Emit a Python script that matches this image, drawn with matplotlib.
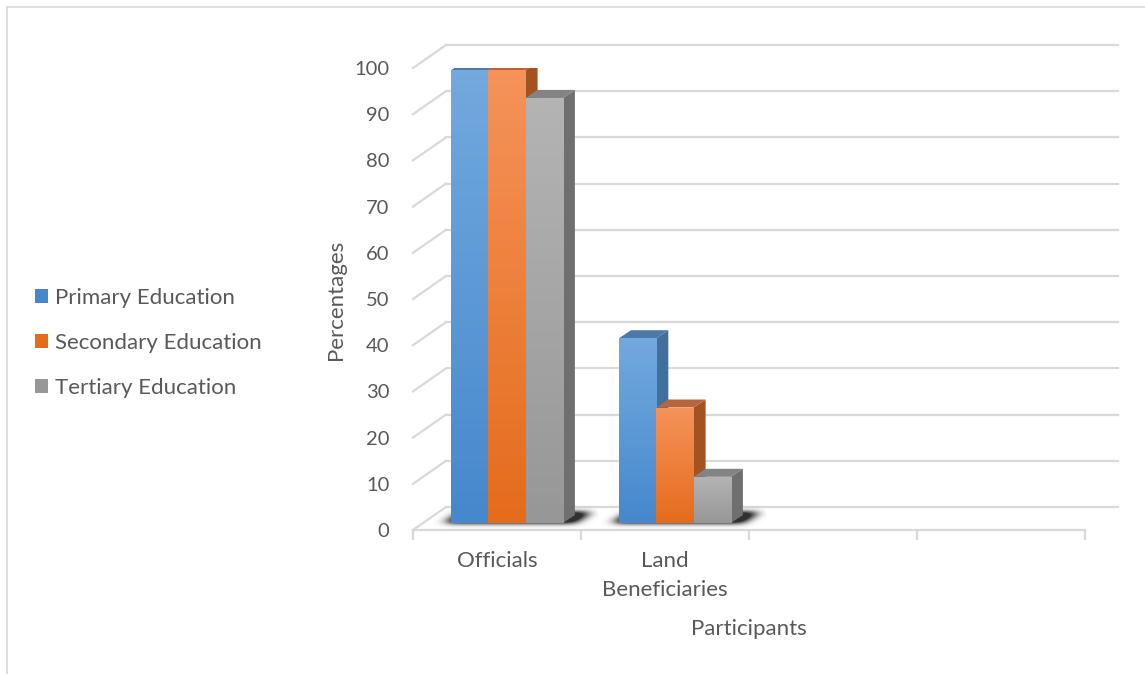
import matplotlib
matplotlib.use("Agg")
import matplotlib.pyplot as plt
import numpy as np
from matplotlib.patches import Polygon, Patch
from matplotlib.colors import LinearSegmentedColormap

# data
categories = ["Officials", "Land\nBeneficiaries", "", ""]
series = ["Primary Education", "Secondary Education", "Tertiary Education"]
primary = [98, 40]
secondary = [98, 25]
tertiary = [92, 10]
yticks = list(range(0, 101, 10))

plt.rcParams['font.family'] = ['Lato', 'DejaVu Sans']
TXT = '#595959'
GRID = '#d9d9d9'
FS = 16

# face colours: (front top, front bottom, top face, side face)
styles = [
    ('#72a9de', '#4688cd', '#4d78a8', '#42709c'),
    ('#f5935a', '#e56c1b', '#b8653c', '#a3531f'),
    ('#b4b4b4', '#979797', '#838383', '#6f6f6f'),
]

W_PX, H_PX = 1145, 674
fig = plt.figure(figsize=(W_PX / 100, H_PX / 100), dpi=100)
fig.patch.set_facecolor('white')

# front plane of the 3d box in pixels
x0, x1, y0, y1 = 413, 1085, 530, 68
ax = fig.add_axes([x0 / W_PX, (H_PX - y0) / H_PX, (x1 - x0) / W_PX, (y0 - y1) / H_PX])
ax.set_xlim(0, 4)
ax.set_ylim(0, 100)
px_x = (x1 - x0) / 4.0
px_y = (y0 - y1) / 100.0

# depth offsets (back wall, bar front face, bar depth)
DX, DY = 33 / px_x, 23 / px_y
FX, FY = 10 / px_x, 7 / px_y
BDX, BDY = 12 / px_x, 8 / px_y
BW = 37.3 / px_x
START = 28 / px_x

for s in ax.spines.values():
    s.set_visible(False)

# back wall gridlines and left wall
for v in yticks:
    ax.plot([DX, 4 + DX], [v + DY, v + DY], color=GRID, lw=1.6, zorder=1, clip_on=False)
    ax.plot([0, DX], [v, v + DY], color=GRID, lw=1.6, zorder=1, clip_on=False)
ax.plot([0, 4], [0, 0], color=GRID, lw=1.6, zorder=1, clip_on=False)

values = [primary, secondary, tertiary]


def blur1d(a, sigma, axis):
    r = int(3 * sigma)
    k = np.exp(-0.5 * (np.arange(-r, r + 1) / sigma) ** 2)
    k /= k.sum()
    return np.apply_along_axis(lambda m: np.convolve(m, k, mode='same'), axis, a)


# soft shadows on the floor (pixel grid, then placed in data coords)
for c in range(len(primary)):
    left = c + START + FX
    right = left + 3 * BW
    mx, my = 24, 10
    nx = int((right - left) * px_x + BDX * px_x) + 2 * mx
    ny = int(BDY * px_y) + 2 * my
    yy, xx = np.mgrid[0:ny, 0:nx]
    yr = yy - my            # 0 at bar base, up toward back
    xl = mx + yr * (BDX * px_x) / (BDY * px_y)
    foot = ((yr >= 0) & (yr <= BDY * px_y + 2) & (xx >= xl - 6) &
            (xx <= xl + (right - left) * px_x + 12)).astype(float)
    sh = blur1d(blur1d(foot, 6, 1), 2.5, 0)
    rgba = np.zeros((ny, nx, 4))
    rgba[..., :3] = 0.15
    rgba[..., 3] = np.clip(sh * 1.5, 0, 0.95)
    ext = (left - mx / px_x, left + (nx - mx) / px_x, FY - my / px_y, FY + (ny - my) / px_y)
    ax.imshow(rgba, origin='lower', aspect='auto', extent=ext, zorder=2, interpolation='bilinear')

# bars
for i, vals in enumerate(values):
    ftop, fbot, topc, sidec = styles[i]
    xs = [c + START + i * BW + FX for c in range(len(vals))]
    for x, v in zip(xs, vals):
        side = Polygon([(x + BW, FY), (x + BW + BDX, FY + BDY), (x + BW + BDX, FY + v + BDY), (x + BW, FY + v)],
                       closed=True, facecolor=sidec, edgecolor='none', zorder=3 + i)
        ax.add_patch(side)
        top = Polygon([(x, FY + v), (x + BW, FY + v), (x + BW + BDX, FY + v + BDY), (x + BDX, FY + v + BDY)],
                      closed=True, facecolor=topc, edgecolor='none', zorder=3 + i)
        ax.add_patch(top)
    bars = ax.bar(xs, vals, width=BW, bottom=FY, align='edge', color=fbot, label=series[i],
                  zorder=3 + i + 0.2, linewidth=0)
    cmap = LinearSegmentedColormap.from_list('g%d' % i, [fbot, ftop])
    for b in bars:
        grad = np.linspace(0, 1, 100).reshape(-1, 1)
        im = ax.imshow(grad, cmap=cmap, origin='lower', aspect='auto',
                       extent=(b.get_x(), b.get_x() + b.get_width(), b.get_y(), b.get_y() + b.get_height()),
                       zorder=3 + i + 0.3)
        im.set_clip_path(b)

ax.set_xlim(0, 4)
ax.set_ylim(0, 100)

# ticks
ax.set_yticks(yticks)
ax.set_yticklabels([str(t) for t in yticks])
ax.tick_params(axis='y', length=0, pad=17, labelsize=14.5, labelcolor=TXT)
ax.set_xticks([c + 0.5 for c in range(4)])
ax.set_xticklabels(categories)
for lab in ax.get_xticklabels():
    lab.set_linespacing(1.6)
ax.tick_params(axis='x', length=0, pad=15, labelsize=FS, labelcolor=TXT)
ax.set_xticks(range(5), minor=True)
ax.tick_params(axis='x', which='minor', length=7, width=1.6, color=GRID)

fig.text(336 / W_PX, 1 - 300 / H_PX, 'Percentages', rotation=90, ha='center', va='center',
         fontsize=FS, color=TXT)
fig.text(749 / W_PX, 1 - 629 / H_PX, 'Participants', ha='center', va='center', fontsize=FS, color=TXT)

handles = [Patch(facecolor=styles[i][1], edgecolor='none') for i in range(3)]
fig.legend(handles, series, loc='center left', bbox_to_anchor=(15 / W_PX, 1 - 343 / H_PX),
           frameon=False, fontsize=FS, labelcolor=TXT, handlelength=0.6, handleheight=0.6,
           handletextpad=0.3, labelspacing=1.13)

# chart border (top and left only visible in the crop)
fig.add_artist(plt.Line2D([7 / W_PX, 1], [1 - 7 / H_PX, 1 - 7 / H_PX], color=GRID, lw=1.2))
fig.add_artist(plt.Line2D([7 / W_PX, 7 / W_PX], [0, 1 - 7 / H_PX], color=GRID, lw=1.2))

fig.savefig('out.png', dpi=100)
